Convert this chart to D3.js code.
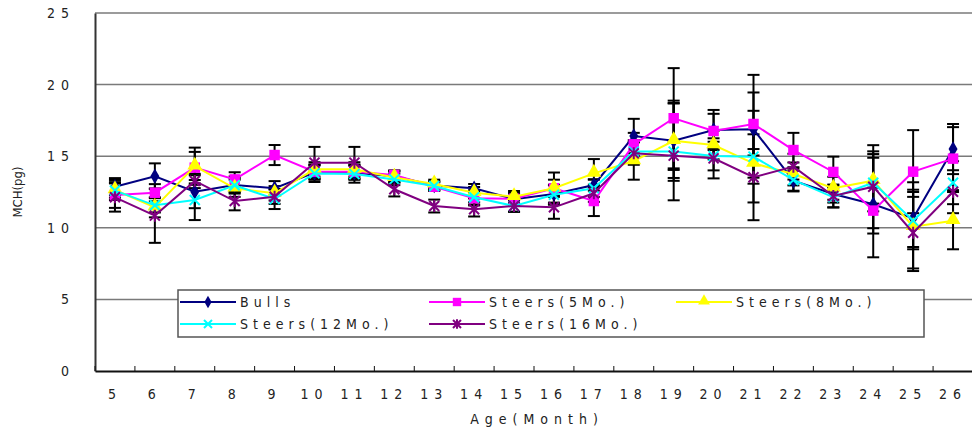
<!DOCTYPE html>
<html>
<head>
<meta charset="utf-8">
<script src="https://cdn.jsdelivr.net/npm/d3@7"></script>
<style>
  html, body { margin: 0; padding: 0; background: #fff; }
  svg { display: block; }
  text { font-family: "Liberation Sans Narrow", "DejaVu Sans Condensed", "Arial Narrow", sans-serif; fill: #222; }
</style>
</head>
<body>
<svg id="chart" width="972" height="430"></svg>
<script>
// Age in months
const months = [5, 6, 7, 8, 9, 10, 11, 12, 13, 14, 15, 16, 17, 18, 19, 20, 21, 22, 23, 24, 25, 26];

// Mean MCH (pg) per group
const bulls    = [12.87, 13.6, 12.52, 12.99, 12.76, 13.85, 13.85, 13.6, 12.95, 12.76, 12.0, 12.36, 12.99, 16.41, 16.08, 16.83, 16.88, 13.29, 12.36, 11.64, 10.66, 15.5];
const steers5  = [12.29, 12.45, 14.2, 13.38, 15.08, 13.92, 13.92, 13.69, 12.87, 12.06, 12.03, 12.76, 11.87, 15.83, 17.65, 16.76, 17.25, 15.43, 13.9, 11.2, 13.92, 14.83];
const steers8  = [12.64, 11.43, 14.3, 12.76, 12.41, 14.08, 14.08, 13.52, 13.06, 12.45, 12.17, 12.76, 13.8, 14.66, 16.08, 15.78, 14.5, 13.76, 12.76, 13.29, 10.08, 10.5];
const steers12 = [12.6, 11.57, 11.94, 12.97, 12.01, 13.8, 13.75, 13.38, 12.92, 12.13, 11.52, 12.31, 12.76, 15.32, 15.32, 15.01, 14.97, 13.34, 12.13, 13.15, 10.5, 13.15];
const steers16 = [12.13, 10.85, 13.27, 11.87, 12.17, 14.55, 14.55, 12.69, 11.52, 11.29, 11.52, 11.43, 12.41, 15.2, 15.04, 14.85, 13.53, 14.27, 12.22, 12.87, 9.66, 12.52];

// Standard deviations (±)
const bullsSd    = [0.6, 0.9, 1.15, 0.6, 0.5, 0.5, 0.5, 0.4, 0.3, 0.3, 0.4, 0.6, 0.4, 1.2, 2.8, 1.4, 3.8, 0.7, 0.6, 3.7, 2.0, 1.75];
const steers5Sd  = [0.9, 0.6, 1.1, 0.5, 0.7, 0.5, 0.5, 0.3, 0.3, 0.5, 0.4, 0.6, 1.05, 0.8, 3.5, 1.2, 2.2, 1.2, 1.07, 1.6, 2.9, 2.2];
const steers8Sd  = [0.7, 0.7, 1.3, 0.6, 0.5, 0.5, 0.5, 0.4, 0.3, 0.4, 0.4, 1.1, 1.0, 1.3, 2.6, 1.0, 1.0, 0.8, 0.8, 1.6, 3.1, 2.0];
const steers12Sd = [0.5, 0.5, 1.4, 0.5, 0.7, 0.6, 0.6, 0.4, 0.3, 0.5, 0.4, 0.7, 0.6, 0.8, 3.4, 1.0, 3.2, 0.8, 0.7, 2.0, 2.0, 1.5];
const steers16Sd = [1.0, 1.9, 0.5, 0.65, 0.5, 1.1, 1.1, 0.5, 0.45, 0.5, 0.4, 0.8, 0.6, 0.8, 1.0, 1.4, 3.0, 0.9, 0.8, 2.9, 2.5, 1.5];

const seriesNames = ["Bulls", "Steers(5Mo.)", "Steers(8Mo.)", "Steers(12Mo.)", "Steers(16Mo.)"];
const yTicks = [0, 5, 10, 15, 20, 25];

const series = [
  { name: seriesNames[0], values: bulls,    sd: bullsSd,    color: "#000080", marker: "diamond" },
  { name: seriesNames[1], values: steers5,  sd: steers5Sd,  color: "#ff00ff", marker: "square" },
  { name: seriesNames[2], values: steers8,  sd: steers8Sd,  color: "#ffff00", marker: "triangle" },
  { name: seriesNames[3], values: steers12, sd: steers12Sd, color: "#00ffff", marker: "x" },
  { name: seriesNames[4], values: steers16, sd: steers16Sd, color: "#800080", marker: "star" }
];

const svg = d3.select("#chart");
const plot = { left: 95, right: 973, top: 13, bottom: 371 };

const x = d3.scaleBand().domain(months).range([plot.left, plot.right]).padding(0);
const y = d3.scaleLinear().domain([0, 25]).range([plot.bottom, plot.top]);
const cx = m => x(m) + x.bandwidth() / 2;

// Horizontal gridlines
svg.append("g")
  .selectAll("line")
  .data(yTicks.filter(t => t > 0))
  .join("line")
  .attr("x1", plot.left).attr("x2", plot.right)
  .attr("y1", d => y(d)).attr("y2", d => y(d))
  .attr("stroke", "#7a7a7a").attr("stroke-width", 1.5);

// Y axis
const yAxis = svg.append("g")
  .attr("transform", `translate(${plot.left},0)`)
  .call(d3.axisLeft(y).tickValues(yTicks).tickSize(0).tickPadding(20));
yAxis.select(".domain").attr("stroke", "#333").attr("stroke-width", 2);
yAxis.selectAll("text")
  .attr("font-size", 14).style("letter-spacing", "6px")
  .attr("font-family", null).attr("fill", "#333");

// X axis with ticks on the category boundaries
const xAxis = svg.append("g")
  .attr("transform", `translate(0,${plot.bottom})`)
  .call(d3.axisBottom(x).tickSize(0).tickPadding(18));
xAxis.select(".domain").attr("stroke", "#111").attr("stroke-width", 2);
xAxis.selectAll("text")
  .attr("font-size", 14).style("letter-spacing", "6px")
  .attr("font-family", null).attr("fill", "#333");
svg.append("g")
  .selectAll("line")
  .data(months.map(m => x(m)).concat([x(months[months.length - 1]) + x.bandwidth()]))
  .join("line")
  .attr("x1", d => d).attr("x2", d => d)
  .attr("y1", plot.bottom).attr("y2", plot.bottom - 5)
  .attr("stroke", "#111").attr("stroke-width", 1);

// Axis titles
svg.append("text")
  .attr("x", (plot.left + plot.right) / 2 + 3).attr("y", 424)
  .attr("text-anchor", "middle").attr("font-size", 14)
  .style("letter-spacing", "6px").attr("fill", "#333")
  .text("Age(Month)");
svg.append("text")
  .attr("transform", `translate(22,${(plot.top + plot.bottom) / 2}) rotate(-90)`)
  .attr("text-anchor", "middle").attr("font-size", 13).attr("fill", "#333")
  .text("MCH(pg)");

// Error bars
const capW = 6;
const eb = svg.append("g").attr("stroke", "#000").attr("stroke-width", 2);
series.forEach(s => {
  months.forEach((m, i) => {
    const v = s.values[i], e = s.sd[i];
    const g = eb.append("g");
    g.append("line").attr("x1", cx(m)).attr("x2", cx(m)).attr("y1", y(v + e)).attr("y2", y(v - e));
    g.append("line").attr("x1", cx(m) - capW).attr("x2", cx(m) + capW).attr("y1", y(v + e)).attr("y2", y(v + e));
    g.append("line").attr("x1", cx(m) - capW).attr("x2", cx(m) + capW).attr("y1", y(v - e)).attr("y2", y(v - e));
  });
});

// Marker drawing
function drawMarker(sel, type, color, scale) {
  const k = scale || 1;
  if (type === "diamond") {
    sel.append("path").attr("d", d3.symbol(d3.symbolDiamond, 70 * k * k)).attr("fill", color);
  } else if (type === "square") {
    sel.append("path").attr("d", d3.symbol(d3.symbolSquare, 110 * k * k)).attr("fill", color);
  } else if (type === "triangle") {
    sel.append("path").attr("d", d3.symbol(d3.symbolTriangle, 95 * k * k)).attr("fill", color).attr("transform", "translate(0,-1)");
  } else if (type === "x") {
    const r = 5 * k;
    sel.append("path").attr("d", `M${-r},${-r}L${r},${r}M${-r},${r}L${r},${-r}`)
      .attr("stroke", color).attr("stroke-width", 2).attr("fill", "none");
  } else if (type === "star") {
    const r = 5 * k;
    sel.append("path").attr("d", `M${-r},${-r}L${r},${r}M${-r},${r}L${r},${-r}M0,${-r * 1.2}L0,${r * 1.2}`)
      .attr("stroke", color).attr("stroke-width", 2).attr("fill", "none");
  }
}

// Series lines and markers
const line = d3.line().x((d, i) => cx(months[i])).y(d => y(d));
series.forEach(s => {
  const g = svg.append("g");
  g.append("path").datum(s.values).attr("d", line)
    .attr("fill", "none").attr("stroke", s.color).attr("stroke-width", 2);
  g.selectAll("g.pt").data(s.values).join("g")
    .attr("class", "pt")
    .attr("transform", (d, i) => `translate(${cx(months[i])},${y(d)})`)
    .each(function () { drawMarker(d3.select(this), s.marker, s.color); });
});

// Legend
const legend = svg.append("g");
legend.append("rect")
  .attr("x", 178).attr("y", 290).attr("width", 746).attr("height", 47)
  .attr("fill", "#fff").attr("stroke", "#555").attr("stroke-width", 1.5);
const legendPos = [
  { x: 180, y: 302 }, { x: 429, y: 302 }, { x: 676, y: 302 },
  { x: 180, y: 324 }, { x: 429, y: 324 }
];
series.forEach((s, i) => {
  const p = legendPos[i];
  const g = legend.append("g").attr("transform", `translate(${p.x},${p.y})`);
  g.append("line").attr("x1", 0).attr("x2", 56).attr("y1", 0).attr("y2", 0)
    .attr("stroke", s.color).attr("stroke-width", 2);
  const mg = g.append("g").attr("transform", "translate(28,0)");
  drawMarker(mg, s.marker, s.color, 0.8);
  g.append("text").attr("x", 60).attr("y", 5)
    .attr("font-size", 14).style("letter-spacing", "5px").attr("fill", "#333")
    .text(s.name);
});
</script>
</body>
</html>
